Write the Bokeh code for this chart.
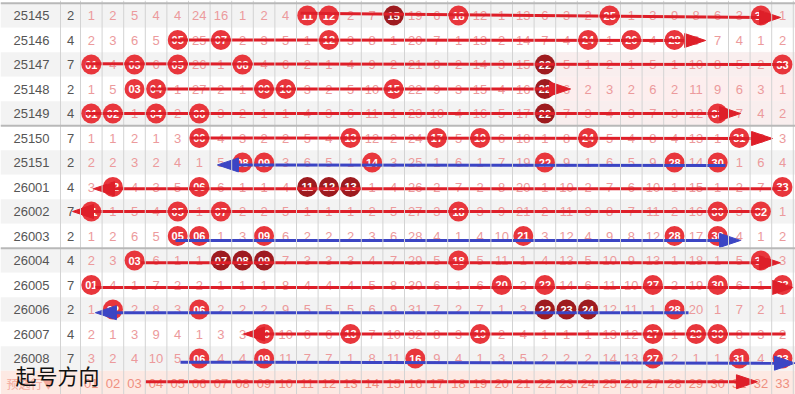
from bokeh.plotting import figure
from bokeh.models import Range1d, Span, Label
from bokeh.embed import file_html
from bokeh.resources import INLINE
from bokeh.core.properties import value

# ---------------- data ----------------
periods = ["25145", "25146", "25147", "25148", "25149",
           "25150", "25151", "26001", "26002", "26003",
           "26004", "26005", "26006", "26007", "26008"]
counts = [2, 4, 7, 2, 4, 7, 2, 4, 7, 2, 4, 7, 2, 4, 7]
numbers = ["01", "02", "03", "04", "05", "06", "07", "08", "09", "10", "11",
           "12", "13", "14", "15", "16", "17", "18", "19", "20", "21", "22",
           "23", "24", "25", "26", "27", "28", "29", "30", "31", "32", "33"]

# omission values per period; 0 = drawn number (red ball), -1 = drawn number (dark ball)
om_25145 = [1, 2, 5, 4, 4, 24, 16, 1, 2, 4, 0, 0, 2, 7, -1, 19, 6, 0, 12, 1, 13, 6, 3, 2, 0, 1, 3, 9, 8, 6, 3, 0, 1]
om_25146 = [2, 3, 6, 5, 0, 25, 0, 2, 3, 5, 1, 0, 3, 8, 1, 20, 7, 1, 13, 2, 14, 7, 4, 0, 1, 0, 4, 0, 9, 7, 4, 1, 2]
om_25147 = [0, 4, 0, 6, 0, 26, 1, 0, 4, 6, 2, 1, 4, 9, 2, 21, 8, 2, 14, 3, 15, -1, 5, 1, 2, 1, 5, 1, 10, 8, 5, 2, 0]
om_25148 = [1, 5, 0, 0, 1, 27, 2, 1, 0, 0, 3, 2, 5, 10, 0, 22, 9, 3, 15, 4, 16, -1, 6, 2, 3, 2, 6, 2, 11, 9, 6, 3, 1]
om_25149 = [0, 0, 1, 0, 2, 0, 3, 2, 1, 1, 4, 3, 6, 11, 1, 23, 10, 4, 16, 5, 17, -1, 7, 3, 4, 3, 7, 3, 12, 0, 7, 4, 2]
om_25150 = [1, 1, 2, 1, 3, 0, 4, 3, 2, 2, 5, 4, 0, 12, 2, 24, 0, 5, 0, 6, 18, 1, 8, 0, 5, 4, 8, 4, 13, 1, 0, 5, 3]
om_25151 = [2, 2, 3, 2, 4, 1, 5, 0, 0, 3, 6, 5, 1, 0, 3, 25, 1, 6, 1, 7, 19, 0, 9, 1, 6, 5, 9, 0, 14, 0, 1, 6, 4]
om_26001 = [3, 0, 4, 3, 5, 0, 6, 1, 1, 4, -1, -1, -1, 1, 4, 26, 2, 7, 2, 8, 20, 1, 10, 2, 7, 6, 10, 1, 15, 1, 2, 7, 0]
om_26002 = [0, 1, 5, 4, 0, 1, 0, 2, 2, 5, 1, 1, 1, 2, 5, 27, 3, 0, 3, 9, 21, 2, 11, 3, 8, 7, 11, 2, 16, 0, 3, 0, 1]
om_26003 = [1, 2, 6, 5, 0, 0, 1, 3, 0, 6, 2, 2, 2, 3, 6, 28, 4, 1, 4, 10, 0, 3, 12, 4, 9, 8, 12, 0, 17, 0, 4, 1, 2]
om_26004 = [2, 3, 0, 6, 1, 1, -1, -1, -1, 7, 3, 3, 3, 4, 7, 29, 5, 0, 5, 11, 1, 4, 13, 5, 10, 9, 13, 1, 18, 1, 5, 0, 3]
om_26005 = [0, 4, 1, 7, 2, 2, 1, 1, 1, 8, 4, 4, 4, 5, 8, 30, 6, 1, 6, 0, 2, 0, 14, 6, 11, 10, 0, 2, 19, 0, 6, 1, 0]
om_26006 = [1, 0, 2, 8, 3, 0, 2, 2, 2, 9, 5, 5, 5, 6, 9, 31, 7, 2, 7, 1, 3, -1, -1, -1, 12, 11, 1, 0, 20, 1, 7, 2, 1]
om_26007 = [2, 1, 3, 9, 4, 1, 3, 3, 0, 10, 6, 6, 0, 7, 10, 32, 8, 3, 0, 2, 4, 1, 1, 1, 13, 12, 0, 1, 0, 0, 8, 3, 2]
om_26008 = [3, 2, 4, 10, 5, 0, 4, 4, 0, 11, 7, 7, 1, 8, 11, 0, 9, 4, 1, 3, 5, 2, 2, 2, 14, 13, 0, 2, 1, 1, 0, 4, 0]
omissions = [om_25145, om_25146, om_25147, om_25148, om_25149, om_25150, om_25151,
             om_26001, om_26002, om_26003, om_26004, om_26005, om_26006, om_26007, om_26008]

# direction arrows drawn on the chart (row, from column, to column, colour, head)
arrow_row = [0, 1, 2, 3, 4, 5, 6, 7, 8, 9, 10, 11, 12, 13, 14, 15]
arrow_from = [10.69, 4.67, 0.73, 3.74, 0.73, 5.59, 30.36, 33.14, 31.98, 4.90, 3.28, 1.19, 28.65, 33.14, 5.13, 3.51]
arrow_to = [32.91, 29.44, 33.14, 23.19, 31.06, 32.54, 6.84, 1.10, 0.13, 31.06, 32.90, 33.50, 1.19, 8.05, 33.60, 31.84]
arrow_dy0 = [-0.09, 0.0, -0.03, 0.0, 0.0, 0.0, 0.12, 0.07, 0.0, 0.18, 0.09, 0.10, 0.13, 0.0, 0.15, -0.05]
arrow_dy1 = [0.08, 0.02, 0.0, 0.0, 0.0, 0.02, 0.10, 0.07, 0.0, 0.18, 0.09, 0.10, 0.13, 0.0, 0.19, -0.05]
arrow_kind = ["r", "r", "r", "r", "r", "r", "b", "r", "r", "b", "r", "r", "b", "r", "b", "r"]
arrow_head = [1, 1, 0, 1, 1, 1, 1, 1, 1, 1, 1, 1, 1, 1, 1, 1]

bottom_label = "预选行▼"
note_text = "起号方向"

# ---------------- geometry / style ----------------
W, H = 795, 394
COL_W = 21.6
NUM_LEFT = 80.0
ROW_H = 24.5
ROW0_C = 15.0
HEAD_LEN = 21.0 / COL_W    # arrow head length (px -> columns)
HEAD_HALF = 7.0 / ROW_H    # arrow head half width (px -> rows)

def px_x(px):
    return 0.5 + (px - NUM_LEFT) / COL_W

def px_y(py):
    return (py - ROW0_C) / ROW_H

RED = "#e8363c"
DARK = "#9e1b1f"
LINE_RED = "#de1f29"
LINE_BLUE = "#3b45c4"

p = figure(width=W, height=H, output_backend="svg", toolbar_location=None,
           x_range=Range1d(px_x(0), px_x(W)), y_range=Range1d(px_y(H), px_y(0)),
           min_border=0, x_axis_location=None, y_axis_location=None)
p.grid.visible = False
p.outline_line_color = None
p.background_fill_color = "white"
p.border_fill_color = "white"

n_rows = len(periods)
# row backgrounds
bg_top, bg_bot, bg_col = [], [], []
for r in range(n_rows):
    bg_top.append(r - 0.5)
    bg_bot.append(r + 0.5)
    bg_col.append("#f3f3f3" if r % 2 == 0 else "#ffffff")
p.quad(left=px_x(0), right=px_x(W), top=bg_top, bottom=bg_bot, fill_color=bg_col, line_color=None)
# faint pink tint region (rows 25147-25149, right part)
p.quad(left=[22.5, 22.5, 22.5], right=[px_x(W)] * 3, top=[1.5, 2.5, 3.5], bottom=[2.5, 3.5, 4.5],
       fill_color=["#f9eeee", "#fdeeee", "#f9eeee"], line_color=None)
# bottom row
p.quad(left=px_x(0), right=px_x(W), top=n_rows - 0.5, bottom=n_rows + 0.6, fill_color="#fde9e3", line_color=None)

# vertical grid lines
vx = [px_x(60)] + [c + 0.5 for c in range(0, 34)]
for x in vx:
    p.add_layout(Span(location=x, dimension="height", line_color="#d3d3d3", line_width=1))
# group separators
for y in [-0.5, 4.5, 9.5]:
    p.add_layout(Span(location=y, dimension="width", line_color="#b8b8b8", line_width=2))

# texts: period and count
p.text(x=[px_x(31)] * n_rows, y=list(range(n_rows)), text=periods, text_align="center",
       text_baseline="middle", text_color="#555555", text_font=value("Liberation Sans"),
       text_font_size="13px")
p.text(x=[px_x(70)] * n_rows, y=list(range(n_rows)), text=[str(c) for c in counts], text_align="center",
       text_baseline="middle", text_color="#555555", text_font=value("Liberation Sans"),
       text_font_size="13px")

# omission numbers and balls
nx, ny, nt = [], [], []
bx, by, bt, bc = [], [], [], []
for r, row in enumerate(omissions):
    for c, v in enumerate(row):
        if v > 0:
            nx.append(c + 1); ny.append(r); nt.append(str(v))
        else:
            bx.append(c + 1); by.append(r); bt.append(numbers[c])
            bc.append(RED if v == 0 else DARK)
p.text(x=nx, y=ny, text=nt, text_align="center", text_baseline="middle",
       text_color="#ec9a9c", text_font=value("Liberation Sans"), text_font_size="13px")
p.scatter(x=bx, y=by, marker="circle", size=20, fill_color=bc, line_color=None)
p.text(x=bx, y=by, text=bt, text_align="center", text_baseline="middle",
       text_color="white", text_font=value("Liberation Sans"), text_font_style="bold",
       text_font_size="11px")

# bottom row labels
p.text(x=list(range(1, 34)), y=[n_rows] * 33, text=numbers, text_align="center",
       text_baseline="middle", text_color="#ef8f80", text_font=value("Liberation Sans"),
       text_font_size="13px")
p.text(x=[px_x(30)], y=[n_rows], text=[bottom_label], text_align="center", text_baseline="middle",
       text_color="#f4a99c", text_font=value("Noto Sans CJK SC"), text_font_size="12px")

# arrows: shaft segments + elongated triangular heads
sx0, sy0, sx1, sy1, scol = [], [], [], [], []
hx, hy, hcol = [], [], []
for i in range(len(arrow_row)):
    col = LINE_RED if arrow_kind[i] == "r" else LINE_BLUE
    y0 = arrow_row[i] + arrow_dy0[i]
    y1 = arrow_row[i] + arrow_dy1[i]
    x0, x1 = arrow_from[i], arrow_to[i]
    d = 1.0 if x1 > x0 else -1.0
    if arrow_head[i]:
        xb = x1 - d * HEAD_LEN
        hx.append([x1, xb, xb])
        hy.append([y1, y1 - HEAD_HALF, y1 + HEAD_HALF])
        hcol.append(col)
        x1 = xb + d * 0.1
    sx0.append(x0); sy0.append(y0); sx1.append(x1); sy1.append(y1); scol.append(col)
p.segment(x0=sx0, y0=sy0, x1=sx1, y1=sy1, line_color=scol, line_width=3)
p.patches(xs=hx, ys=hy, fill_color=hcol, line_color=hcol, line_width=1)

p.add_layout(Label(x=px_x(15), y=px_y(374), text=note_text, text_font="Noto Sans CJK SC",
                   text_font_size="21px", text_color="#111111", text_baseline="middle",
                   text_align="left"))

open("out.html", "w").write(file_html(p, INLINE))
